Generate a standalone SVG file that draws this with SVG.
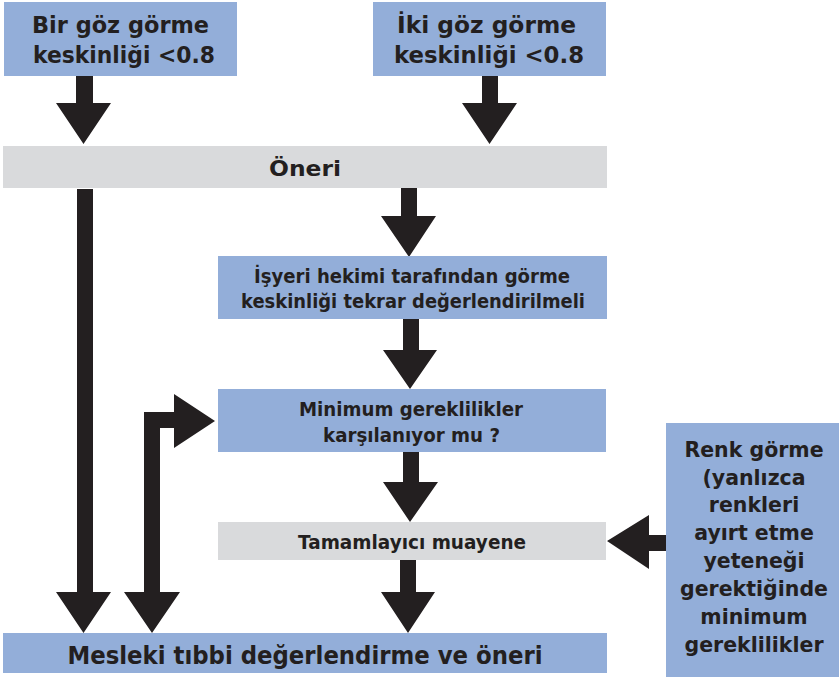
<svg xmlns="http://www.w3.org/2000/svg" width="839" height="677" viewBox="0 0 839 677">
<style>
.blue{fill:#93aed9}
.gray{fill:#d9dadc}
.arr{fill:#231f20}
text{font-family:"DejaVu Sans","Liberation Sans",sans-serif;font-weight:bold;fill:#231f20;text-anchor:middle}
.t1{font-size:23.5px}
.t2{font-size:19.5px}
.t3{font-size:20.5px}
.t4{font-size:24px}
</style>
<rect width="839" height="677" fill="#ffffff"/>
<g id="connectors">
<polygon class="arr" points="76,76 93,76 93,103 111,103 83.5,144 56,103 76,103"/>
<polygon class="arr" points="482,76 498,76 498,103 517,103 489.5,144 462,103 482,103"/>
<polygon class="arr" points="401,188 417,188 417,216 436,216 409,257 381,216 401,216"/>
<polygon class="arr" points="403,319 419,319 419,350 437,350 410,389 383,350 403,350"/>
<polygon class="arr" points="403,452 419,452 419,482 438,482 410,522 383,482 403,482"/>
<polygon class="arr" points="400,560 416,560 416,592 435,592 408,633 381,592 400,592"/>
<polygon class="arr" points="77,189 93,189 93,592 111,592 83.5,633 56,592 77,592"/>
<polygon class="arr" points="160,592 160,428 174,428 174,448 215,421 174,394 174,412 144,412 144,592 124,592 152,633 180,592"/>
<polygon class="arr" points="666,535 666,551 649,551 649,569 607,541 649,515 649,535"/>
</g>
<g id="node-bir">
<rect class="blue" x="4" y="2" width="233" height="74"/>
<text class="t1" x="120.5" y="33" textLength="177" lengthAdjust="spacingAndGlyphs">Bir göz görme</text>
<text class="t1" x="124" y="63" textLength="182" lengthAdjust="spacingAndGlyphs">keskinliği &lt;0.8</text>
</g>
<g id="node-iki">
<rect class="blue" x="373" y="2" width="233" height="74"/>
<text class="t1" x="486.5" y="33" textLength="179" lengthAdjust="spacingAndGlyphs">İki göz görme</text>
<text class="t1" x="489" y="63" textLength="190" lengthAdjust="spacingAndGlyphs">keskinliği &lt;0.8</text>
</g>
<g id="node-oneri">
<rect class="gray" x="3" y="146" width="604" height="42"/>
<text class="t3" x="305" y="176" style="font-size:21.5px" textLength="72" lengthAdjust="spacingAndGlyphs">Öneri</text>
</g>
<g id="node-isyeri">
<rect class="blue" x="218" y="256" width="389" height="63"/>
<text class="t2" x="412" y="283" textLength="316" lengthAdjust="spacingAndGlyphs">İşyeri hekimi tarafından görme</text>
<text class="t2" x="413" y="308" textLength="344" lengthAdjust="spacingAndGlyphs">keskinliği tekrar değerlendirilmeli</text>
</g>
<g id="node-minimum">
<rect class="blue" x="218" y="389" width="388" height="63"/>
<text class="t2" x="411" y="416" textLength="224" lengthAdjust="spacingAndGlyphs">Minimum gereklilikler</text>
<text class="t2" x="411.5" y="442" textLength="177" lengthAdjust="spacingAndGlyphs">karşılanıyor mu ?</text>
</g>
<g id="node-tamamlayici">
<rect class="gray" x="218" y="522" width="388" height="38"/>
<text class="t2" x="412" y="549" textLength="228" lengthAdjust="spacingAndGlyphs">Tamamlayıcı muayene</text>
</g>
<g id="node-mesleki">
<rect class="blue" x="3" y="633" width="604" height="40"/>
<text class="t4" x="305" y="664" textLength="475" lengthAdjust="spacingAndGlyphs">Mesleki tıbbi değerlendirme ve öneri</text>
</g>
<g id="node-renk">
<rect class="blue" x="666" y="423" width="173" height="254"/>
<text class="t3" x="754" y="457">Renk görme</text>
<text class="t3" x="754" y="485">(yanlızca</text>
<text class="t3" x="754" y="512">renkleri</text>
<text class="t3" x="754" y="540">ayırt etme</text>
<text class="t3" x="754" y="568">yeteneği</text>
<text class="t3" x="754" y="596">gerektiğinde</text>
<text class="t3" x="754" y="624">minimum</text>
<text class="t3" x="754" y="652">gereklilikler</text>
</g>
</svg>
